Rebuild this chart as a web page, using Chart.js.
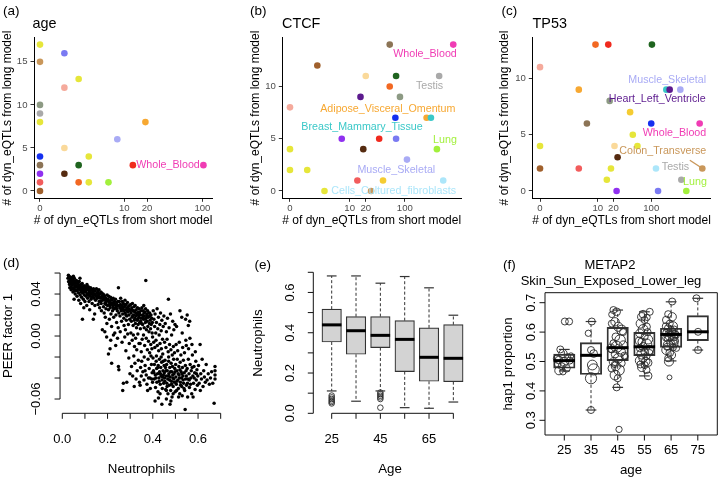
<!DOCTYPE html>
<html><head><meta charset="utf-8">
<script src="https://cdn.jsdelivr.net/npm/chart.js"></script>
<style>
html,body{margin:0;padding:0;background:#fff;}
#wrap{position:relative;width:720px;height:480px;overflow:hidden;background:#fff;}
#wrap canvas{position:absolute;left:0;top:0;}
</style></head><body><div id="wrap">
<canvas id="ca" width="720" height="480"></canvas>
<canvas id="cb" width="720" height="480"></canvas>
<canvas id="cc" width="720" height="480"></canvas>
<canvas id="cd" width="720" height="480"></canvas>
<canvas id="ce" width="720" height="480"></canvas>
<canvas id="cf" width="720" height="480"></canvas>
</div>
<script>
// ======================= DATA =======================
// (a)-(c): number of dyn_eQTLs per tissue (short model on x, long model on y)
const ggXTicks = [0, 10, 20, 100];
const ggXTickLabels = ['0', '10', '20', '100'];

const aShort = [0, 1, 0, 2, 1, 0, 0, 0, 19, 8, 1, 3, 0, 0, 2, 13, 103, 1, 0, 0, 2, 3, 6, 0];
const aLong  = [17, 16, 15, 13, 12, 10, 9, 8, 8, 6, 5, 4, 4, 3, 3, 3, 3, 2, 2, 1, 1, 1, 1, 0];
const aTissue = ['Brain','Skin_Sun','Colon_Transverse','Brain','Artery_Coronary','Spleen','Testis','Brain',
  'Adipose_Visceral_Omentum','Muscle_Skeletal','Stomach','Brain','Skin_NotSun','Esophagus_GEJ','Thyroid',
  'Artery_Tibial','Whole_Blood','Esophagus_Mucosa','Heart_AA','Artery_Aorta','Adipose_Subcutaneous','Brain','Lung','Pancreas'];
const aYTicks = [0, 5, 10, 15];

const bShort = [54, 705, 2, 20, 70, 400, 54, 16, 82, 0, 68, 241, 287, 7, 35, 70, 0, 18, 365, 109, 0, 1, 14, 41, 471, 3, 25];
const bLong  = [14, 14, 12, 11, 11, 11, 10, 9, 9, 8, 7, 7, 7, 5, 5, 5, 4, 4, 4, 3, 2, 2, 1, 1, 1, 0, 0];
const bTissue = ['Esophagus_GEJ','Whole_Blood','Pancreas','Stomach','Thyroid','Testis','Adipose_Subcutaneous','Heart_LV',
  'Spleen','Artery_Coronary','Skin_NotSun','Adipose_Visceral_Omentum','Breast_Mammary_Tissue','Heart_AA','Artery_Tibial',
  'Skin_Sun','Brain','Esophagus_Mucosa','Lung','Muscle_Skeletal','Brain','Brain','Artery_Aorta','Nerve_Tibial',
  'Cells_Cultured_fibroblasts','Brain','Colon_Transverse'];
const bYTicks = [0, 5, 10];

const cShort = [9, 16, 103, 0, 4, 188, 216, 337, 17, 41, 6, 100, 752, 46, 0, 21, 56, 24, 0, 4, 18, 122, 840, 15, 351, 23, 133, 432];
const cLong  = [13, 13, 13, 11, 9, 9, 9, 9, 8, 7, 6, 6, 6, 5, 4, 4, 4, 3, 2, 2, 2, 2, 2, 1, 1, 0, 0, 0];
const cTissue = ['Adipose_Subcutaneous','Artery_Tibial','Thyroid','Artery_Coronary','Adipose_Visceral_Omentum',
  'Breast_Mammary_Tissue','Heart_LV','Muscle_Skeletal','Spleen','Nerve_Tibial','Esophagus_GEJ','Skin_NotSun',
  'Whole_Blood','Brain','Brain','Stomach','Brain','Esophagus_Mucosa','Pancreas','Artery_Aorta','Brain',
  'Cells_Cultured_fibroblasts','Colon_Transverse','Brain','Testis','Heart_AA','Skin_Sun','Lung'];
const cYTicks = [0, 5, 10];

// (d): Neutrophils vs PEER factor 1, one [neutrophils, peer1] pair per sample
const dNeutPeer = [
[0.025,0.055],[0.028,0.052],[0.03,0.057],[0.032,0.049],[0.035,0.054],[0.036,0.050],[0.038,0.056],[0.04,0.047],[0.041,0.052],[0.043,0.055],
[0.045,0.049],[0.046,0.045],[0.048,0.053],[0.05,0.050],[0.051,0.046],[0.053,0.055],[0.055,0.048],[0.056,0.052],[0.058,0.044],[0.06,0.050],
[0.027,0.058],[0.033,0.046],[0.039,0.044],[0.044,0.051],[0.049,0.057],[0.054,0.043],[0.057,0.040],[0.052,0.035],[0.047,0.042],[0.059,0.047],
[0.062,0.053],[0.064,0.047],[0.066,0.043],[0.068,0.050],[0.07,0.045],[0.072,0.041],[0.074,0.048],[0.075,0.052],[0.077,0.044],[0.079,0.039],
[0.08,0.046],[0.082,0.049],[0.083,0.042],[0.085,0.037],[0.087,0.045],[0.088,0.050],[0.09,0.041],[0.091,0.047],[0.093,0.035],[0.094,0.043],
[0.096,0.048],[0.097,0.039],[0.099,0.045],[0.1,0.033],[0.065,0.038],[0.073,0.034],[0.081,0.031],[0.089,0.016],[0.095,0.027],[0.078,0.055],
[0.102,0.047],[0.104,0.042],[0.105,0.038],[0.107,0.045],[0.109,0.049],[0.11,0.040],[0.112,0.036],[0.113,0.044],[0.115,0.047],[0.117,0.041],
[0.118,0.033],[0.12,0.045],[0.122,0.038],[0.124,0.043],[0.125,0.046],[0.127,0.035],[0.129,0.040],[0.13,0.044],[0.132,0.031],[0.134,0.038],
[0.135,0.042],[0.137,0.016],[0.138,0.045],[0.14,0.036],[0.142,0.040],[0.144,0.029],[0.145,0.043],[0.147,0.034],[0.149,0.038],[0.108,0.029],
[0.121,0.025],[0.143,0.021],
[0.151,0.045],[0.153,0.041],[0.155,0.036],[0.157,0.043],[0.158,0.030],[0.16,0.039],[0.162,0.044],[0.163,0.033],[0.165,0.027],[0.167,0.040],
[0.168,0.036],[0.17,0.042],[0.172,0.031],[0.173,0.024],[0.175,0.038],[0.177,0.006],[0.178,0.034],[0.18,0.040],[0.182,0.028],[0.183,0.035],
[0.185,0.022],[0.187,0.038],[0.188,0.031],[0.19,0.018],[0.192,0.036],[0.193,0.026],[0.195,0.033],[0.197,0.012],[0.198,0.039],[0.2,0.029],
[0.196,-0.001],[0.188,0.004],
[0.202,0.035],[0.204,0.025],[0.205,0.038],[0.207,0.030],[0.208,0.016],[0.21,0.033],[0.212,0.027],[0.213,0.037],[0.215,0.021],[0.217,0.031],
[0.218,0.009],[0.22,0.034],[0.222,0.024],[0.223,0.029],[0.225,0.036],[0.227,0.018],[0.228,0.032],[0.23,0.026],[0.232,0.003],[0.233,0.030],
[0.235,0.035],[0.237,0.020],[0.238,0.027],[0.24,0.013],[0.242,0.032],[0.243,0.024],[0.245,0.029],[0.247,0.008],[0.248,0.046],[0.25,0.022],
[0.204,-0.017],[0.211,-0.012],[0.218,-0.026],[0.214,-0.004],[0.226,0.001],[0.236,-0.009],[0.244,-0.002],[0.248,-0.029],[0.25,-0.032],
[0.252,0.033],[0.254,0.027],[0.255,0.019],[0.257,0.030],[0.258,0.036],[0.26,0.024],[0.262,0.014],[0.263,0.029],[0.265,0.033],[0.267,0.021],
[0.268,0.026],[0.27,0.031],[0.272,0.017],[0.273,0.010],[0.275,0.028],[0.277,0.034],[0.278,0.022],[0.28,0.025],[0.282,0.030],[0.283,0.015],
[0.285,0.019],[0.287,0.027],[0.288,0.032],[0.29,0.023],[0.292,0.011],[0.293,0.026],[0.295,0.020],[0.297,0.029],[0.298,0.016],[0.3,0.024],
[0.256,0.004],[0.264,-0.006],[0.27,-0.045],[0.267,-0.052],[0.276,-0.001],[0.281,-0.014],[0.285,-0.044],[0.289,0.002],[0.294,-0.021],[0.299,-0.036],
[0.296,-0.007],[0.279,0.006],
[0.302,0.030],[0.304,0.022],[0.305,0.014],[0.307,0.027],[0.308,0.018],[0.31,0.031],[0.312,0.024],[0.313,0.010],[0.315,0.020],[0.317,0.028],
[0.318,0.015],[0.32,0.023],[0.322,0.029],[0.323,0.012],[0.325,0.019],[0.327,0.025],[0.328,0.008],[0.33,0.021],[0.332,0.027],[0.333,0.016],
[0.335,0.011],[0.337,0.023],[0.338,0.018],[0.34,0.026],[0.342,0.013],[0.343,0.020],[0.345,0.007],[0.347,0.017],[0.348,0.024],[0.35,0.012],
[0.303,0.003],[0.309,-0.004],[0.314,0.001],[0.319,-0.010],[0.324,-0.002],[0.329,-0.013],[0.334,0.002],[0.339,-0.007],[0.344,-0.007],[0.349,-0.015],
[0.306,-0.029],[0.316,-0.019],[0.311,-0.038],[0.321,-0.026],[0.326,-0.041],[0.331,-0.033],[0.336,-0.023],[0.341,-0.044],[0.344,-0.047],[0.346,-0.030],
[0.349,-0.038],[0.318,-0.048],
[0.352,0.027],[0.354,0.020],[0.355,0.011],[0.357,0.024],[0.358,0.016],[0.36,0.029],[0.362,0.008],[0.363,0.019],[0.365,0.023],[0.367,0.013],
[0.368,0.026],[0.369,0.053],[0.37,0.017],[0.372,0.006],[0.373,0.021],[0.375,0.014],[0.377,0.024],[0.378,0.009],[0.38,0.018],[0.382,0.022],
[0.383,0.004],[0.385,0.012],[0.387,0.019],[0.388,0.015],[0.39,0.007],[0.392,0.020],[0.393,0.011],[0.395,0.017],[0.397,0.003],[0.398,0.013],
[0.353,-0.003],[0.359,0.001],[0.364,-0.009],[0.371,-0.002],[0.376,-0.013],[0.381,-0.005],[0.386,-0.016],[0.391,-0.008],[0.396,-0.012],[0.399,-0.001],
[0.351,-0.024],[0.356,-0.034],[0.361,-0.042],[0.366,-0.028],[0.371,-0.037],[0.374,-0.046],[0.379,-0.022],[0.384,-0.031],[0.387,-0.040],[0.389,-0.050],
[0.394,-0.027],[0.397,-0.035],[0.399,-0.044],[0.362,-0.020],[0.377,-0.052],[0.392,-0.019],
[0.402,0.024],[0.405,0.016],[0.408,0.009],[0.41,0.021],[0.413,0.003],[0.416,0.013],[0.419,0.026],[0.422,0.007],[0.425,0.018],[0.428,0.001],
[0.431,0.011],[0.434,0.022],[0.437,0.005],[0.44,0.015],[0.443,-0.003],[0.446,0.009],[0.449,0.019],
[0.404,-0.006],[0.409,-0.011],[0.414,-0.004],[0.42,-0.009],[0.426,-0.014],[0.432,-0.007],[0.438,-0.012],[0.444,-0.017],
[0.401,-0.021],[0.403,-0.033],[0.406,-0.041],[0.407,-0.027],[0.411,-0.037],[0.412,-0.049],[0.415,-0.024],[0.417,-0.031],[0.418,-0.044],[0.421,-0.036],
[0.423,-0.053],[0.424,-0.028],[0.427,-0.040],[0.429,-0.022],[0.43,-0.034],[0.433,-0.046],[0.435,-0.030],[0.436,-0.038],[0.439,-0.025],[0.441,-0.042],
[0.442,-0.050],[0.445,-0.033],[0.447,-0.037],[0.448,-0.045],[0.45,-0.028],[0.41,-0.062],[0.425,-0.059],[0.44,-0.065],[0.432,-0.055],[0.416,-0.019],
[0.437,-0.020],[0.446,-0.024],
[0.455,0.012],[0.46,0.004],[0.465,0.017],[0.469,0.035],[0.472,0.008],[0.478,0.021],[0.483,0.001],[0.488,0.014],[0.493,0.006],[0.498,0.011],
[0.452,-0.006],[0.458,-0.011],[0.463,-0.003],[0.468,-0.015],[0.474,-0.008],[0.48,-0.013],[0.486,-0.018],[0.491,-0.010],[0.496,-0.016],
[0.451,-0.035],[0.453,-0.043],[0.454,-0.023],[0.456,-0.030],[0.457,-0.051],[0.459,-0.038],[0.461,-0.027],[0.462,-0.045],[0.464,-0.033],[0.466,-0.041],
[0.467,-0.055],[0.47,-0.024],[0.471,-0.036],[0.473,-0.047],[0.475,-0.030],[0.476,-0.065],[0.477,-0.039],[0.479,-0.052],[0.481,-0.026],[0.482,-0.043],
[0.484,-0.034],[0.485,-0.058],[0.487,-0.029],[0.489,-0.040],[0.49,-0.048],[0.492,-0.022],[0.494,-0.036],[0.495,-0.044],[0.497,-0.031],[0.499,-0.053],
[0.46,-0.060],[0.48,-0.062],[0.47,-0.020],
[0.505,0.009],[0.52,0.024],[0.528,0.018],[0.53,0.003],[0.545,0.016],[0.552,0.020],[0.546,-0.004],
[0.503,-0.008],[0.51,-0.014],[0.517,-0.006],[0.524,-0.018],[0.532,-0.011],[0.54,-0.016],[0.548,-0.009],
[0.501,-0.027],[0.502,-0.039],[0.504,-0.046],[0.507,-0.033],[0.508,-0.022],[0.511,-0.042],[0.513,-0.050],[0.515,-0.029],[0.516,-0.037],[0.519,-0.055],
[0.521,-0.025],[0.522,-0.044],[0.525,-0.034],[0.527,-0.040],[0.528,-0.048],[0.531,-0.030],[0.533,-0.038],[0.535,-0.023],[0.536,-0.045],[0.539,-0.035],
[0.541,-0.052],[0.543,-0.070],[0.544,-0.028],[0.545,-0.041],[0.547,-0.033],[0.549,-0.047],[0.514,-0.058],[0.53,-0.057],
[0.552,-0.031],[0.555,-0.041],[0.557,-0.022],[0.56,-0.036],[0.562,-0.049],[0.563,0.014],[0.565,-0.027],[0.564,-0.002],[0.568,-0.040],[0.57,-0.033],
[0.572,-0.055],[0.575,-0.018],[0.577,-0.038],[0.58,-0.045],[0.582,-0.029],[0.585,-0.035],[0.587,-0.051],[0.59,-0.024],[0.592,-0.042],[0.595,-0.032],
[0.597,-0.047],[0.599,-0.038],[0.558,-0.012],[0.573,-0.008],[0.588,-0.015],[0.554,-0.058],[0.578,-0.058],[0.557,0.010],
[0.602,-0.028],[0.605,-0.045],[0.609,-0.008],[0.612,-0.036],[0.615,-0.041],[0.618,-0.022],[0.622,-0.048],[0.625,-0.033],[0.628,-0.039],[0.632,-0.044],
[0.636,-0.027],[0.64,-0.042],[0.645,-0.036],[0.65,-0.046],[0.655,-0.040],[0.66,-0.034],[0.675,-0.029],[0.675,-0.033],[0.675,-0.037],[0.675,-0.041],
[0.671,-0.064],[0.665,-0.045],[0.61,-0.052],
[0.031,0.051],[0.037,0.053],[0.042,0.049],[0.052,0.051],[0.061,0.047],[0.067,0.052],[0.071,0.049],[0.076,0.046],[0.084,0.047],[0.086,0.043],
[0.092,0.044],[0.098,0.042],[0.103,0.044],[0.111,0.046],[0.116,0.039],[0.119,0.043],[0.126,0.041],[0.131,0.037],[0.136,0.040],[0.141,0.043],
[0.146,0.039],[0.152,0.038],[0.159,0.041],[0.164,0.037],[0.169,0.033],[0.174,0.041],[0.179,0.037],[0.184,0.039],[0.189,0.034],[0.194,0.030],
[0.199,0.034],[0.206,0.033],[0.211,0.029],[0.216,0.035],[0.221,0.031],[0.226,0.027],[0.231,0.033],[0.236,0.029],[0.241,0.026],[0.246,0.033],
[0.253,0.029],[0.259,0.026],[0.266,0.028],[0.271,0.024],[0.276,0.030],[0.281,0.020],[0.286,0.024],[0.291,0.028],[0.296,0.025],[0.306,0.025],
[0.311,0.019],[0.316,0.024],[0.321,0.017],[0.326,0.022],[0.331,0.015],[0.336,0.020],[0.341,0.022],[0.346,0.014],[0.356,0.018],[0.361,0.022],
[0.366,0.016],[0.376,0.019],[0.386,0.022],
[0.405,-0.035],[0.414,-0.040],[0.422,-0.030],[0.428,-0.043],[0.434,-0.036],[0.443,-0.039],[0.452,-0.040],[0.458,-0.033],[0.463,-0.048],[0.469,-0.038],
[0.474,-0.042],[0.478,-0.034],[0.483,-0.046],[0.488,-0.037],[0.493,-0.041],[0.498,-0.034],[0.506,-0.043],[0.512,-0.036],[0.518,-0.040],[0.523,-0.047],
[0.529,-0.036],[0.534,-0.042],[0.538,-0.050],[0.548,-0.038],[0.553,-0.045],[0.561,-0.042],[0.567,-0.046],[0.574,-0.030],[0.583,-0.040],[0.593,-0.036],
[0.366,-0.033],[0.381,-0.040],[0.395,-0.041],[0.46,-0.052],[0.49,-0.055],[0.505,-0.052],[0.52,-0.032]
];
const dXTicks = [0, 0.1, 0.2, 0.3, 0.4, 0.5, 0.6, 0.7];
const dXLabels = ['0.0', '', '0.2', '', '0.4', '', '0.6', ''];
const dYTicks = [-0.06, -0.04, -0.02, 0, 0.02, 0.04, 0.06];
const dYLabels = ['\u22120.06', '', '', '0.00', '', '0.04', ''];

// (e): Neutrophils by age group (box statistics)
const eAges = ['25', '35', '45', '55', '65', '75'];
const eAgeLabels = ['25', '', '45', '', '65', ''];
const eLo  = [0.111, 0.060, 0.111, 0.028, 0.025, 0.056];
const eQ1  = [0.354, 0.293, 0.326, 0.207, 0.159, 0.157];
const eMed = [0.439, 0.410, 0.387, 0.367, 0.278, 0.273];
const eQ3  = [0.517, 0.480, 0.480, 0.460, 0.424, 0.440];
const eHi  = [0.682, 0.682, 0.646, 0.679, 0.623, 0.487];
const eOutliers = [[1,0.088],[1,0.079],[1,0.071],[1,0.063],[1,0.056],[1,0.049],
  [3,0.103],[3,0.095],[3,0.087],[3,0.079],[3,0.071],[3,0.028]];
const eYTicks = [0, 0.1, 0.2, 0.3, 0.4, 0.5, 0.6, 0.7];
const eYLabels = ['0.0', '', '0.2', '', '0.4', '', '0.6', ''];

// (f): METAP2 hap1 proportion by age group
const fAges = ['25', '35', '45', '55', '65', '75'];
const fLo  = [0.468, 0.335, 0.412, 0.451, 0.502, 0.539];
const fQ1  = [0.477, 0.456, 0.503, 0.520, 0.548, 0.571];
const fMed = [0.503, 0.521, 0.547, 0.550, 0.592, 0.601];
const fQ3  = [0.525, 0.564, 0.616, 0.599, 0.613, 0.656];
const fHi  = [0.541, 0.636, 0.675, 0.669, 0.703, 0.715];
// [age group, hap1 proportion, jitter, circle cex]
const fObs = [
[1,0.636,0.02,1.0],[1,0.636,0.18,1.0],[1,0.541,-0.15,1.0],[1,0.527,-0.05,1.2],[1,0.516,0.12,0.9],[1,0.505,-0.2,1.1],[1,0.503,0.2,1.0],
[1,0.499,0.0,1.3],[1,0.491,-0.25,0.9],[1,0.484,-0.1,1.0],[1,0.477,0.08,1.1],[1,0.469,-0.2,1.2],[1,0.465,-0.05,0.9],[1,0.52,0.25,0.8],[1,0.51,-0.28,1.0],
[2,0.636,0.03,1.0],[2,0.596,-0.1,0.9],[2,0.539,0.0,1.0],[2,0.527,0.1,1.1],[2,0.488,0.05,1.4],[2,0.473,0.1,1.6],[2,0.443,0.0,1.6],[2,0.335,0.0,1.0],
[3,0.675,-0.16,1.0],[3,0.669,-0.04,1.1],[3,0.66,-0.22,0.9],[3,0.635,-0.1,1.2],[3,0.629,-0.22,1.0],[3,0.618,0.02,1.3],[3,0.607,0.15,1.4],
[3,0.584,-0.07,1.1],[3,0.573,0.09,1.5],[3,0.562,-0.16,1.0],[3,0.556,0.21,1.2],[3,0.55,-0.04,1.6],[3,0.541,-0.22,1.0],[3,0.533,0.12,1.3],
[3,0.525,-0.1,1.1],[3,0.516,0.27,0.9],[3,0.511,0.02,1.4],[3,0.499,-0.16,1.2],[3,0.494,0.15,1.0],[3,0.484,-0.07,1.3],[3,0.477,-0.22,1.1],
[3,0.471,0.05,1.5],[3,0.454,-0.1,1.4],[3,0.443,0.0,1.0],[3,0.412,-0.04,1.0],[3,0.269,0.05,0.9],[3,0.6,0.2,1.0],[3,0.545,-0.25,1.2],
[3,0.52,0.25,1.0],[3,0.49,-0.12,0.9],
[4,0.669,0.2,1.0],[4,0.661,-0.05,1.1],[4,0.652,-0.1,1.2],[4,0.641,0.01,1.0],[4,0.629,-0.14,1.3],[4,0.618,0.08,1.1],[4,0.609,-0.05,1.4],
[4,0.596,-0.17,1.2],[4,0.584,0.01,1.0],[4,0.575,0.14,1.3],[4,0.567,-0.1,1.1],[4,0.559,0.08,1.5],[4,0.55,-0.05,1.2],[4,0.545,-0.17,1.0],
[4,0.539,0.17,1.3],[4,0.533,0.01,1.1],[4,0.525,-0.1,1.4],[4,0.518,0.08,1.0],[4,0.511,-0.05,1.2],[4,0.503,-0.17,1.3],[4,0.496,0.14,1.1],
[4,0.488,0.01,1.0],[4,0.48,-0.1,1.2],[4,0.471,0.08,1.0],[4,0.451,0.14,1.1],[4,0.65,0.1,0.9],[4,0.6,0.12,1.0],[4,0.57,-0.2,1.1],
[4,0.53,0.2,0.9],[4,0.5,0.05,1.2],[4,0.49,-0.15,1.0],
[5,0.704,0.04,1.0],[5,0.661,-0.11,1.0],[5,0.652,0.04,1.2],[5,0.641,-0.18,1.1],[5,0.629,-0.05,1.0],[5,0.62,0.07,1.3],[5,0.612,-0.11,1.1],
[5,0.604,0.01,1.2],[5,0.598,-0.18,1.0],[5,0.593,0.14,1.1],[5,0.586,-0.05,1.3],[5,0.578,-0.13,1.0],[5,0.573,0.07,1.2],[5,0.564,-0.02,1.1],
[5,0.556,-0.11,1.4],[5,0.548,0.07,1.0],[5,0.539,-0.18,1.3],[5,0.53,-0.05,1.1],[5,0.522,0.01,1.2],[5,0.511,-0.11,1.0],[5,0.5,-0.08,1.3],
[5,0.446,-0.06,0.7],[5,0.62,-0.2,1.0],[5,0.61,0.12,0.9],[5,0.6,0.05,1.1],[5,0.595,-0.08,1.0],[5,0.59,0.18,1.0],[5,0.583,0.1,1.1],
[5,0.58,-0.2,0.9],[5,0.57,0.15,1.0],[5,0.56,0.1,1.2],[5,0.55,-0.15,1.0],[5,0.545,0.2,0.9],
[6,0.715,-0.05,1.0],[6,0.601,0.01,1.0],[6,0.539,0.01,1.0]
];
const fYTicks = [0.3, 0.4, 0.5, 0.6, 0.7];
const fYLabels = ['0.3', '0.4', '0.5', '0.6', '0.7'];

// ======================= STYLE =======================
const FONT = "'Liberation Sans', Arial, Helvetica, sans-serif";
Chart.defaults.font.family = FONT;
const PALETTE = {
  Brain:'#e6e63a', Skin_Sun:'#7a7af2', Colon_Transverse:'#c9975a', Artery_Coronary:'#f5aa9c', Spleen:'#8d9a84',
  Testis:'#a9a9a9', Adipose_Visceral_Omentum:'#f7a832', Muscle_Skeletal:'#a9abf5', Stomach:'#fad99a', Skin_NotSun:'#1530f0',
  Esophagus_GEJ:'#8c7456', Thyroid:'#1f641f', Artery_Tibial:'#f02a1e', Whole_Blood:'#f03cb4', Esophagus_Mucosa:'#552b10',
  Heart_AA:'#9030f0', Artery_Aorta:'#f25c5c', Adipose_Subcutaneous:'#f26822', Lung:'#a2f03c', Pancreas:'#a0602c',
  Nerve_Tibial:'#f5cc32', Cells_Cultured_fibroblasts:'#ace6fa', Breast_Mammary_Tissue:'#3ac8c8', Heart_LV:'#5c1a8e'
};
const tr = v => Math.log10(v + 1);   // pseudo-log transform of the short-model axis

// ======================= ANNOTATIONS (defined before the charts render) =======================
const ANNOT = {
  ca: {
    labels: [{ text: 'Whole_Blood', tissue: 'Whole_Blood', x: 1.58, y: 3 }],
    texts: [
      { t: '(a)', x: 3, y: 11, s: 13.5, a: 'left' },
      { t: 'age', x: 32.5, y: 24, s: 14.4, a: 'left' },
      { t: '# of dyn_eQTLs from long model', x: 8, y: 118, s: 12, rot: true },
      { t: '# of dyn_eQTLs from short model', x: 123, y: 221, s: 12 }
    ]
  },
  cb: {
    labels: [
      { text: 'Whole_Blood', tissue: 'Whole_Blood', x: 2.356, y: 13.12 },
      { text: 'Testis', tissue: 'Testis', x: 2.435, y: 10.07 },
      { text: 'Adipose_Visceral_Omentum', tissue: 'Adipose_Visceral_Omentum', x: 1.707, y: 7.87 },
      { text: 'Breast_Mammary_Tissue', tissue: 'Breast_Mammary_Tissue', x: 1.257, y: 6.08 },
      { text: 'Lung', tissue: 'Lung', x: 2.705, y: 4.87 },
      { text: 'Muscle_Skeletal', tissue: 'Muscle_Skeletal', x: 1.855, y: 2.04 },
      { text: 'Cells_Cultured_fibroblasts', tissue: 'Cells_Cultured_fibroblasts', x: 1.81, y: 0 }
    ],
    texts: [
      { t: '(b)', x: 250, y: 11, s: 13.5, a: 'left' },
      { t: 'CTCF', x: 282, y: 24, s: 14.4, a: 'left' },
      { t: '# of dyn_eQTLs from long model', x: 255.5, y: 118, s: 12, rot: true },
      { t: '# of dyn_eQTLs from short model', x: 371.7, y: 221, s: 12 }
    ]
  },
  cc: {
    segs: [{ x0: 2.70, y0: 2.73, x1: 2.915, y1: 2.04, tissue: 'Colon_Transverse', width: 1.4 }],
    labels: [
      { text: 'Muscle_Skeletal', tissue: 'Muscle_Skeletal', x: 2.292, y: 9.85 },
      { text: 'Heart_Left_Ventricle', tissue: 'Heart_LV', x: 2.112, y: 8.16 },
      { text: 'Whole_Blood', tissue: 'Whole_Blood', x: 2.423, y: 5.16 },
      { text: 'Colon_Transverse', tissue: 'Colon_Transverse', x: 2.213, y: 3.56 },
      { text: 'Testis', tissue: 'Testis', x: 2.441, y: 2.14 },
      { text: 'Lung', tissue: 'Lung', x: 2.793, y: 0.75 }
    ],
    texts: [
      { t: '(c)', x: 501.5, y: 11, s: 13.5, a: 'left' },
      { t: 'TP53', x: 532.5, y: 24, s: 14.4, a: 'left' },
      { t: '# of dyn_eQTLs from long model', x: 505, y: 118, s: 12, rot: true },
      { t: '# of dyn_eQTLs from short model', x: 621.5, y: 221, s: 12 }
    ]
  },
  cd: {
    rAxes: { tl: 5.5, size: 13, x: { ticks: dXTicks, labels: dXLabels, off: 26 }, y: { ticks: dYTicks, labels: dYLabels, off: 24 } },
    texts: [
      { t: '(d)', x: 3, y: 263, s: 13.5, a: 'left' },
      { t: 'PEER factor 1', x: 8.5, y: 336, s: 13.3, rot: true },
      { t: 'Neutrophils', x: 141.5, y: 469.5, s: 13.3 }
    ]
  },
  ce: {
    rAxes: { tl: 5.5, size: 13, x: { ticks: [1, 2, 3, 4, 5, 6], labels: eAgeLabels, off: 26 }, y: { ticks: eYTicks, labels: eYLabels, off: 23.3 } },
    texts: [
      { t: '(e)', x: 254.5, y: 265, s: 13.5, a: 'left' },
      { t: 'Neutrophils', x: 258.3, y: 343, s: 13.3, rot: true },
      { t: 'Age', x: 390, y: 469.5, s: 13.3 }
    ]
  },
  cf: {
    rAxes: { frame: true, tl: 5.5, size: 13, x: { ticks: [1, 2, 3, 4, 5, 6], labels: fAges, off: 15.7 }, y: { ticks: fYTicks, labels: fYLabels, off: 13.3 } },
    texts: [
      { t: '(f)', x: 503, y: 265, s: 13.5, a: 'left' },
      { t: 'METAP2', x: 610, y: 265, s: 13 },
      { t: 'Skin_Sun_Exposed_Lower_leg', x: 611, y: 281, s: 13 },
      { t: 'hap1 proportion', x: 508.3, y: 364, s: 13.3, rot: true },
      { t: 'age', x: 631, y: 470, s: 13.3 }
    ]
  }
};

function drawRAxes(chart, ax) {
  const ctx = chart.ctx, ca = chart.chartArea, xs = chart.scales.x, ys = chart.scales.y;
  ctx.strokeStyle = '#111'; ctx.lineWidth = 1; ctx.fillStyle = '#000';
  ctx.font = ax.size + 'px ' + FONT;
  ctx.beginPath();
  if (ax.frame) {
    ctx.rect(ca.left, ca.top, ca.right - ca.left, ca.bottom - ca.top);
  } else {
    ctx.moveTo(xs.getPixelForValue(ax.x.ticks[0]), ca.bottom);
    ctx.lineTo(xs.getPixelForValue(ax.x.ticks[ax.x.ticks.length - 1]), ca.bottom);
    ctx.moveTo(ca.left, ys.getPixelForValue(ax.y.ticks[0]));
    ctx.lineTo(ca.left, ys.getPixelForValue(ax.y.ticks[ax.y.ticks.length - 1]));
  }
  ax.x.ticks.forEach(v => { const p = xs.getPixelForValue(v); ctx.moveTo(p, ca.bottom); ctx.lineTo(p, ca.bottom + ax.tl); });
  ax.y.ticks.forEach(v => { const p = ys.getPixelForValue(v); ctx.moveTo(ca.left, p); ctx.lineTo(ca.left - ax.tl, p); });
  ctx.stroke();
  ctx.textAlign = 'center'; ctx.textBaseline = 'middle';
  ax.x.ticks.forEach((v, i) => { const l = ax.x.labels[i]; if (l) ctx.fillText(l, xs.getPixelForValue(v), ca.bottom + ax.x.off); });
  ax.y.ticks.forEach((v, i) => {
    const l = ax.y.labels[i];
    if (l) { ctx.save(); ctx.translate(ca.left - ax.y.off, ys.getPixelForValue(v)); ctx.rotate(-Math.PI / 2); ctx.fillText(l, 0, 0); ctx.restore(); }
  });
}
const annotPlugin = {
  id: 'annotate',
  afterDraw(chart) {
    const cfg = ANNOT[chart.canvas.id]; if (!cfg) return;
    const ctx = chart.ctx, xs = chart.scales.x, ys = chart.scales.y;
    ctx.save();
    if (cfg.rAxes) drawRAxes(chart, cfg.rAxes);
    (cfg.segs || []).forEach(s => {
      ctx.strokeStyle = PALETTE[s.tissue]; ctx.lineWidth = s.width;
      ctx.beginPath();
      ctx.moveTo(xs.getPixelForValue(s.x0), ys.getPixelForValue(s.y0));
      ctx.lineTo(xs.getPixelForValue(s.x1), ys.getPixelForValue(s.y1));
      ctx.stroke();
    });
    (cfg.labels || []).forEach(l => {
      ctx.font = '10.7px ' + FONT; ctx.fillStyle = PALETTE[l.tissue];
      ctx.textAlign = 'center'; ctx.textBaseline = 'middle';
      ctx.fillText(l.text, xs.getPixelForValue(l.x), ys.getPixelForValue(l.y));
    });
    (cfg.texts || []).forEach(t => {
      ctx.font = t.s + 'px ' + FONT; ctx.fillStyle = '#000';
      ctx.textAlign = t.a || 'center'; ctx.textBaseline = 'middle';
      ctx.save(); ctx.translate(t.x, t.y); if (t.rot) ctx.rotate(-Math.PI / 2); ctx.fillText(t.t, 0, 0); ctx.restore();
    });
    ctx.restore();
  }
};
Chart.register(annotPlugin);

const common = { responsive: false, animation: false, events: [], devicePixelRatio: 1,
  plugins: { legend: { display: false }, tooltip: { enabled: false } } };

// ======================= ggplot-style panels (a)-(c) =======================
function makeGG(id, P) {
  const pts = P.short.map((s, i) => ({ x: tr(s), y: P.long[i] }));
  const gridOpt = { display: true, drawOnChartArea: false, drawTicks: true, tickLength: 3.5, tickColor: '#333', tickWidth: 1 };
  const tickFont = { size: 9.6, family: FONT };
  return new Chart(document.getElementById(id), {
    type: 'scatter',
    data: { datasets: [{ data: pts, pointRadius: 3.3, pointHoverRadius: 3.3, pointBorderWidth: 0,
      pointBorderColor: 'rgba(0,0,0,0)', pointBackgroundColor: P.tissue.map(t => PALETTE[t]), clip: false }] },
    options: Object.assign({}, common, {
      layout: { autoPadding: false, padding: { left: 0, top: P.area.t, right: 720 - P.area.r, bottom: 0 } },
      scales: {
        x: { type: 'linear', min: P.xr[0], max: P.xr[1],
          afterFit(s) { s.height = 480 - P.area.b; },
          afterBuildTicks(s) { s.ticks = ggXTicks.map(v => ({ value: tr(v) })); },
          ticks: { autoSkip: false, maxRotation: 0, color: '#4d4d4d', font: tickFont, padding: 0.5,
            callback: (v, i) => ggXTickLabels[i] },
          grid: gridOpt, border: { display: true, color: '#000', width: 1 } },
        y: { type: 'linear', min: P.yr[0], max: P.yr[1],
          afterFit(s) { s.width = P.area.l; },
          afterBuildTicks(s) { s.ticks = P.yTicks.map(v => ({ value: v })); },
          ticks: { autoSkip: false, color: '#4d4d4d', font: tickFont, padding: 3,
            callback: (v, i) => String(P.yTicks[i]) },
          grid: gridOpt, border: { display: true, color: '#000', width: 1 } }
      }
    })
  });
}

// ======================= base-R-style box panels (e),(f) =======================
function makeBox(id, B) {
  const n = B.lo.length;
  const boxes = [], whisk = [], caps = [], meds = [];
  for (let i = 0; i < n; i++) {
    const g = i + 1;
    boxes.push({ x: g, y: [B.q1[i], B.q3[i]] });
    whisk.push({ x: g, y: B.q3[i] }, { x: g, y: B.hi[i] }, { x: g, y: null },
               { x: g, y: B.q1[i] }, { x: g, y: B.lo[i] }, { x: g, y: null });
    caps.push({ x: g, y: B.hi[i] }, { x: g, y: B.lo[i] });
    meds.push({ x: g, y: B.med[i] });
  }
  const datasets = [
    { type: 'scatter', data: meds, pointStyle: 'line', pointRadius: B.boxPx / 2, pointHoverRadius: B.boxPx / 2,
      pointBorderWidth: 3, pointBorderColor: '#000', order: 1, clip: false },
    { type: 'scatter', data: caps, pointStyle: 'line', pointRadius: B.capPx / 2, pointHoverRadius: B.capPx / 2,
      pointBorderWidth: 1.2, pointBorderColor: '#333', order: 2, clip: false },
    { type: 'scatter', data: B.points, pointStyle: 'circle', pointRadius: B.pointR, pointHoverRadius: B.pointR,
      pointBackgroundColor: 'rgba(0,0,0,0)', pointBorderColor: '#2a2a2a', pointBorderWidth: 0.9, order: 3, clip: false },
    { type: 'bar', data: boxes, backgroundColor: B.fill, borderColor: '#333', borderWidth: 1.2,
      borderSkipped: false, barThickness: B.boxPx, order: 4 },
    { type: 'line', data: whisk, borderColor: '#333', borderWidth: 1, borderDash: [3, 2.2], pointRadius: 0,
      spanGaps: false, order: 5, clip: false }
  ];
  return new Chart(document.getElementById(id), {
    type: 'bar',
    data: { datasets },
    options: Object.assign({}, common, {
      layout: { autoPadding: false, padding: { left: B.area.l, top: B.area.t, right: 720 - B.area.r, bottom: 480 - B.area.b } },
      scales: {
        x: { type: 'linear', min: B.xr[0], max: B.xr[1], offset: false, display: false },
        y: { type: 'linear', min: B.yr[0], max: B.yr[1], display: false }
      }
    })
  });
}

// ======================= BUILD =======================
const AREA_TOP = 37.3, AREA_BOT = 198.3;
makeGG('ca', { short: aShort, long: aLong, tissue: aTissue, yTicks: aYTicks,
  area: { l: 34, r: 212, t: AREA_TOP, b: AREA_BOT }, xr: [-0.074, 2.123], yr: [-0.85, 17.85] });
makeGG('cb', { short: bShort, long: bLong, tissue: bTissue, yTicks: bYTicks,
  area: { l: 282.3, r: 461, t: AREA_TOP, b: AREA_BOT }, xr: [-0.134, 2.984], yr: [-0.7, 14.7] });
makeGG('cc', { short: cShort, long: cLong, tissue: cTissue, yTicks: cYTicks,
  area: { l: 532.3, r: 710.7, t: AREA_TOP, b: AREA_BOT }, xr: [-0.139, 3.076], yr: [-0.65, 13.65] });

new Chart(document.getElementById('cd'), {
  type: 'scatter',
  data: { datasets: [{ data: dNeutPeer.map(p => ({ x: p[0], y: p[1] })), pointRadius: 1.75, pointHoverRadius: 1.75,
    pointBackgroundColor: '#000', pointBorderWidth: 0, clip: false }] },
  options: Object.assign({}, common, {
    layout: { autoPadding: false, padding: { left: 60.04, top: 268, right: 720 - 225.2, bottom: 480 - 413.3 } },
    scales: { x: { type: 'linear', min: -0.01, max: 0.72, display: false },
              y: { type: 'linear', min: -0.0736, max: 0.0648, display: false } }
  })
});

makeBox('ce', { lo: eLo, q1: eQ1, med: eMed, q3: eQ3, hi: eHi,
  points: eOutliers.map(o => ({ x: o[0], y: o[1] })), pointR: 2.8,
  fill: '#d3d3d3', boxPx: 19.5, capPx: 9.7,
  area: { l: 313.3, r: 470, t: 268, b: 413.3 }, xr: [0.244, 6.684], yr: [0, 0.7214] });

makeBox('cf', { lo: fLo, q1: fQ1, med: fMed, q3: fQ3, hi: fHi,
  points: fObs.map(o => ({ x: o[0] + o[2], y: o[1] })), pointR: fObs.map(o => 3.5 * o[3]),
  fill: 'rgba(255,255,255,0)', boxPx: 21.4, capPx: 10.7,
  area: { l: 545, r: 717.3, t: 292.7, b: 435 }, xr: [0.277, 6.73], yr: [0.25, 0.734] });
</script>
</body></html>
